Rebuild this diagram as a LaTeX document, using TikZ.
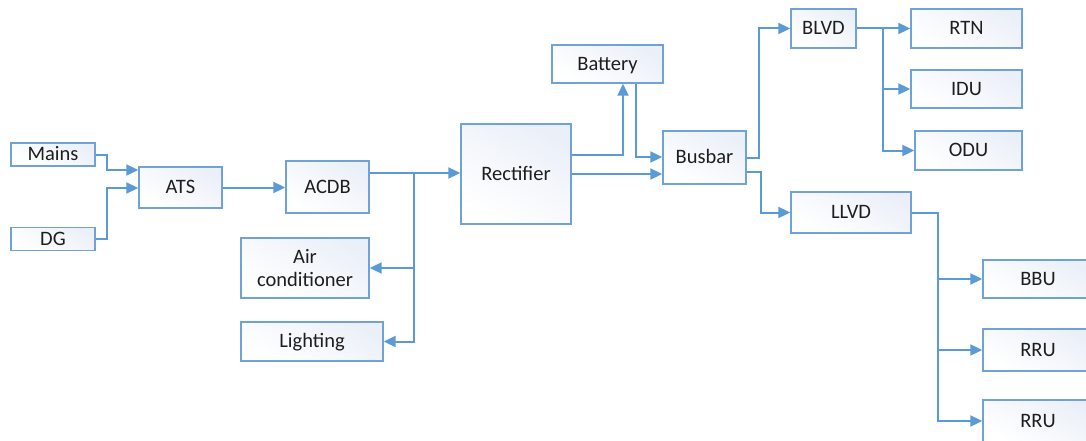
\documentclass[tikz,border=0pt]{standalone}
\usepackage{fontspec}
\setmainfont{Carlito}
\usetikzlibrary{arrows.meta}
\definecolor{flow}{HTML}{5B9BD5}
\definecolor{boxedge}{HTML}{6FA3D8}
\definecolor{boxtint}{HTML}{EBF0F8}
\definecolor{ink}{HTML}{1E1E1E}
\tikzset{
  unit/.style={draw=boxedge, line width=1.4pt, top color=boxtint, bottom color=white,
    shading angle=-30, text=ink, inner sep=0pt, align=center,
    font=\fontsize{20.5}{23}\selectfont},
  label1/.style={unit, text height=14.5pt, text depth=2pt},
  wire/.style={draw=flow, line width=2pt, line join=miter},
  feed/.style={wire, -{Triangle[length=12pt,width=11pt]}}
}
\begin{document}
\begin{tikzpicture}[x=1pt,y=-1pt]
\useasboundingbox (0,0) rectangle (1086,441);
\clip (0,0) rectangle (1086,441);
\fill[white] (0,0) rectangle (1086,441);

% AC side
\node[label1, minimum width=84, minimum height=23] (mains) at (53,154.5) {Mains};
\node[label1, minimum width=84, minimum height=23] (dg) at (53,239) {DG};
\node[label1, minimum width=83, minimum height=41] (ats) at (180.5,187.5) {ATS};
\node[label1, minimum width=83, minimum height=52] (acdb) at (327.5,187) {ACDB};
\node[unit, minimum width=128, minimum height=60] (aircon) at (305,268) {Air\\conditioner};
\node[label1, minimum width=142, minimum height=39] (light) at (312,341.5) {Lighting};

% DC plant
\node[label1, minimum width=110, minimum height=100] (rect) at (516,174) {Rectifier};
\node[label1, minimum width=111, minimum height=38] (batt) at (607.5,64) {Battery};
\node[label1, minimum width=83, minimum height=53] (bus) at (704.5,157.5) {Busbar};
\node[label1, minimum width=65, minimum height=39] (blvd) at (823.5,28.5) {BLVD};
\node[label1, minimum width=120, minimum height=41] (llvd) at (851,212.5) {LLVD};

% loads
\node[label1, minimum width=111, minimum height=39] (rtn) at (966.5,28.5) {RTN};
\node[label1, minimum width=111, minimum height=38] (idu) at (966.5,89) {IDU};
\node[label1, minimum width=107, minimum height=39] (odu) at (968.5,150.5) {ODU};
\node[label1, minimum width=110, minimum height=38] (bbu) at (1038,279) {BBU};
\node[label1, minimum width=110, minimum height=42] (rru1) at (1038,350) {RRU};
\node[label1, minimum width=110, minimum height=42] (rru2) at (1038,421) {RRU};

% bend points
\coordinate (kMains) at (107,170);
\coordinate (kDG) at (107,188);
\coordinate (kAC) at (414,173);
\coordinate (kBattUp) at (623,155);
\coordinate (kBattDn) at (636,157);
\coordinate (kRect) at (600,174);
\coordinate (kBL) at (759,157.5);
\coordinate (kLL) at (761,172);
\coordinate (kBLVD) at (883,28.5);
\coordinate (kLLVD) at (938,212.5);

% sources into the ATS
\draw[feed] (mains.east) -| (kMains) -- (kMains -| ats.west);
\draw[feed] (dg.east) -| (kDG) -- (kDG -| ats.west);
\draw[feed] (ats.east) -- (ats.east -| acdb.west);

% AC distribution
\draw[feed] (kAC -| acdb.east) -- (kAC -| rect.west);
\draw[feed] (kAC) |- (light.east);
\draw[feed] (kAC |- aircon.east) -- (aircon.east);

% rectifier, battery and busbar
\draw[feed] (kBattUp -| rect.east) -| (kBattUp |- batt.south);
\draw[feed] (kBattDn |- batt.south) |- (kBattDn -| bus.west);
\draw[feed] (kRect -| rect.east) -- (kRect -| bus.west);

% busbar to the disconnects
\draw[feed] (bus.east) -- (kBL) |- (blvd.west);
\draw[feed] (kLL -| bus.east) -- (kLL) |- (llvd.west);

% BLVD loads
\draw[feed] (blvd.east) -- (rtn.west);
\draw[feed] (kBLVD) |- (odu.west);
\draw[feed] (kBLVD |- idu.west) -- (idu.west);

% LLVD loads
\draw[feed] (llvd.east) -- (kLLVD) |- (rru2.west);
\draw[feed] (kLLVD |- bbu.west) -- (bbu.west);
\draw[feed] (kLLVD |- rru1.west) -- (rru1.west);
\end{tikzpicture}
\end{document}
